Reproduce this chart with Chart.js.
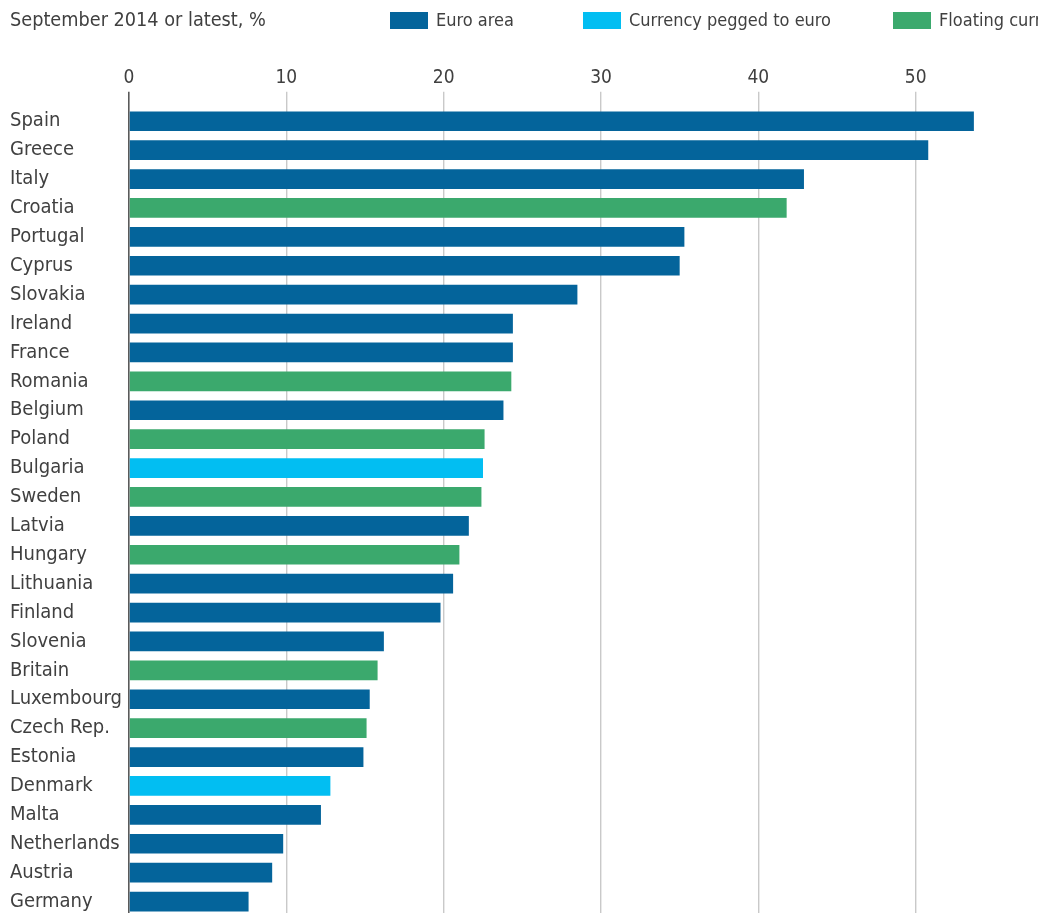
<!DOCTYPE html>
<html>
<head>
<meta charset="utf-8">
<script src="https://cdn.jsdelivr.net/npm/chart.js@4.4.1/dist/chart.umd.min.js"></script>
<style>
  html, body { margin: 0; padding: 0; background: #ffffff; overflow: hidden; }
  #wrap { position: relative; width: 1038px; height: 913px; overflow: hidden; }
  #chart { position: absolute; left: 0; top: 0; }
  .sub { position: absolute; left: 10px; top: 8px; font-family: "DejaVu Sans Condensed", "DejaVu Sans", sans-serif;
         font-size: 19.7px; color: #404040; white-space: nowrap; }
  .item { position: absolute; top: 9px; white-space: nowrap;
          font-family: "DejaVu Sans Condensed", "DejaVu Sans", sans-serif; font-size: 18px; color: #404040; }
  .swatch { display: inline-block; width: 38px; height: 17px; vertical-align: -3px; margin-right: 8px; }
</style>
</head>
<body>
<div id="wrap">
  <canvas id="chart" width="1075" height="928"></canvas>
  <div class="sub">September 2014 or latest, %</div>
  <div id="legend"></div>
</div>
<script>
// Youth unemployment by country, September 2014 or latest, %
const countries = ["Spain", "Greece", "Italy", "Croatia", "Portugal", "Cyprus", "Slovakia", "Ireland",
  "France", "Romania", "Belgium", "Poland", "Bulgaria", "Sweden", "Latvia", "Hungary", "Lithuania",
  "Finland", "Slovenia", "Britain", "Luxembourg", "Czech Rep.", "Estonia", "Denmark", "Malta",
  "Netherlands", "Austria", "Germany"];
const rates = [53.7, 50.8, 42.9, 41.8, 35.3, 35.0, 28.5, 24.4, 24.4, 24.3, 23.8, 22.6, 22.5, 22.4,
  21.6, 21.0, 20.6, 19.8, 16.2, 15.8, 15.3, 15.1, 14.9, 12.8, 12.2, 9.8, 9.1, 7.6];
// currency regime of each country: 0 = euro area, 1 = pegged to euro, 2 = floating
const regime = [0, 0, 0, 2, 0, 0, 0, 0, 0, 2, 0, 2, 1, 2, 0, 2, 0, 0, 0, 2, 0, 2, 0, 1, 0, 0, 0, 0];
const regimeNames = ["Euro area", "Currency pegged to euro", "Floating currency"];
const regimeColors = ["#04649b", "#02bef2", "#3ba96d"];
const xTicks = [0, 10, 20, 30, 40, 50];

// legend
const legendEl = document.getElementById("legend");
const legendLeft = [390, 583, 893];
regimeNames.forEach((name, i) => {
  const item = document.createElement("span");
  item.className = "item";
  item.style.left = legendLeft[i] + "px";
  const sw = document.createElement("span");
  sw.className = "swatch";
  sw.style.background = regimeColors[i];
  item.appendChild(sw);
  item.appendChild(document.createTextNode(name));
  legendEl.appendChild(item);
});

const FONT = "'DejaVu Sans Condensed', 'DejaVu Sans', sans-serif";

new Chart(document.getElementById("chart"), {
  type: "bar",
  data: {
    labels: countries,
    datasets: [{
      data: rates,
      backgroundColor: regime.map(r => regimeColors[r]),
      borderWidth: 0,
      barPercentage: 0.68,
      categoryPercentage: 1.0
    }]
  },
  options: {
    indexAxis: "y",
    responsive: false,
    animation: false,
    layout: { padding: { top: 65, left: 10, right: 0, bottom: 0 } },
    plugins: { legend: { display: false }, tooltip: { enabled: false } },
    scales: {
      x: {
        position: "top",
        min: 0,
        max: 60,
        afterBuildTicks: axis => { axis.ticks = xTicks.concat([60]).map(v => ({ value: v })); },
        ticks: {
          padding: 2,
          color: "#404040",
          font: { family: FONT, size: 19 },
          callback: v => (xTicks.includes(v) ? String(v) : "")
        },
        grid: {
          color: ctx => (ctx.tick && ctx.tick.value === 0 ? "#5a5a5a" : "#c9c9c9"),
          lineWidth: ctx => (ctx.tick && ctx.tick.value === 0 ? 1.6 : 1.4),
          tickLength: 15,
          drawTicks: true
        },
        border: { display: false }
      },
      y: {
        afterFit: axis => { axis.width = 119; },
        ticks: {
          crossAlign: "far",
          padding: 0,
          color: "#404040",
          font: { family: FONT, size: 20 }
        },
        grid: { display: false },
        border: { display: false }
      }
    }
  }
});
</script>
</body>
</html>
